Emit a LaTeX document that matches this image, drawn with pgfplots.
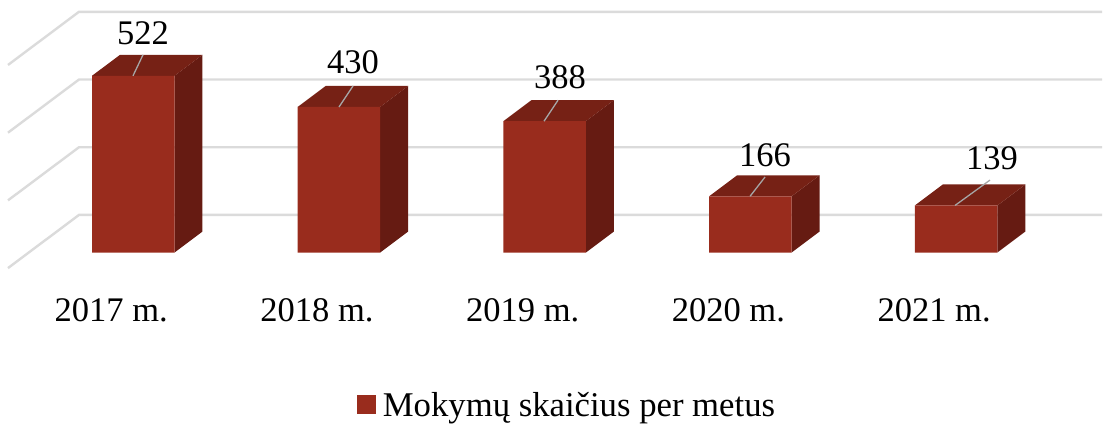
\documentclass[border=0pt]{standalone}
\usepackage{fontspec}
\setmainfont{Liberation Serif}
\usepackage{pgfplots}
\pgfplotsset{compat=1.18}
\definecolor{barfront}{HTML}{992C1D}
\definecolor{barside}{HTML}{661B12}
\definecolor{bartop}{HTML}{762115}
\definecolor{gridc}{HTML}{DBDBDB}
\definecolor{leader}{HTML}{A6A6A6}
\newcommand{\chartfont}{\fontsize{34.5}{40}\selectfont}
\newcommand{\legendfont}{\fontsize{34.7}{40}\selectfont}
\begin{document}
\begin{tikzpicture}
\path[use as bounding box] (0,-139pt) rectangle (1108pt,285pt);
\begin{axis}[
  at={(0,0)}, anchor=south west,
  scale only axis, width=1108pt, height=285pt,
  xmin=-0.6478, xmax=4.7387, ymin=-96, ymax=745.9,
  clip=false,
  axis x line=bottom, hide y axis,
  x axis line style={draw=none},
  major tick length=0pt,
  xtick={0,1,2,3,4},
  xticklabels={2017 m.,2018 m.,2019 m.,2020 m.,2021 m.},
  xticklabel style={font=\chartfont, text height=24pt, text depth=0pt, yshift=-9pt, xshift=-22pt},
  legend style={at={(0.5117,-0.421)}, anchor=center, draw=none, fill=none,
    font=\legendfont, inner sep=0pt, cells={anchor=west}},
  legend image code/.code={\fill[barfront] (2pt,-9.5pt) rectangle (21pt,9.5pt); \path (26pt,0pt);},
]
% gridlines: back wall + left wall
\addplot[gridc, line width=2.4pt, forget plot] coordinates {(-0.609,-46)(-0.2638,111)(4.71,111)};
\addplot[gridc, line width=2.4pt, forget plot] coordinates {(-0.609,154)(-0.2638,311)(4.71,311)};
\addplot[gridc, line width=2.4pt, forget plot] coordinates {(-0.609,354)(-0.2638,511)(4.71,511)};
\addplot[gridc, line width=2.4pt, forget plot] coordinates {(-0.609,554)(-0.2638,711)(4.71,711)};
% side faces
\addplot[fill=barside, draw=none, forget plot] coordinates {(0.2005,0)(0.3366,62)(0.3366,584)(0.2005,522)};
\addplot[fill=barside, draw=none, forget plot] coordinates {(1.2005,0)(1.3366,62)(1.3366,492)(1.2005,430)};
\addplot[fill=barside, draw=none, forget plot] coordinates {(2.2005,0)(2.3366,62)(2.3366,450)(2.2005,388)};
\addplot[fill=barside, draw=none, forget plot] coordinates {(3.2005,0)(3.3366,62)(3.3366,228)(3.2005,166)};
\addplot[fill=barside, draw=none, forget plot] coordinates {(4.2005,0)(4.3366,62)(4.3366,201)(4.2005,139)};
% top faces
\addplot[fill=bartop, draw=none, forget plot] coordinates {(-0.2005,522)(0.2005,522)(0.3366,584)(-0.0644,584)};
\addplot[fill=bartop, draw=none, forget plot] coordinates {(0.7995,430)(1.2005,430)(1.3366,492)(0.9356,492)};
\addplot[fill=bartop, draw=none, forget plot] coordinates {(1.7995,388)(2.2005,388)(2.3366,450)(1.9356,450)};
\addplot[fill=bartop, draw=none, forget plot] coordinates {(2.7995,166)(3.2005,166)(3.3366,228)(2.9356,228)};
\addplot[fill=bartop, draw=none, forget plot] coordinates {(3.7995,139)(4.2005,139)(4.3366,201)(3.9356,201)};
% front faces
\addplot[ybar, bar width=82.5pt, bar shift=0pt, fill=barfront, draw=none]
  coordinates {(0,522)(1,430)(2,388)(3,166)(4,139)};
\addlegendentry{Mokymų skaičius per metus}
% leader lines
\addplot[leader, line width=1.3pt, forget plot] coordinates {(-0.0012,522)(0.0474,584)};
\addplot[leader, line width=1.3pt, forget plot] coordinates {(1.0003,430)(1.0683,492)};
\addplot[leader, line width=1.3pt, forget plot] coordinates {(1.9969,388)(2.0650,450)};
\addplot[leader, line width=1.3pt, forget plot] coordinates {(2.9984,166)(3.0713,223)};
\addplot[leader, line width=1.3pt, forget plot] coordinates {(3.9949,139)(4.1650,214)};
% value labels
\addplot[draw=none, forget plot, point meta=explicit symbolic, nodes near coords,
  nodes near coords style={anchor=center, font=\chartfont, text=black, inner sep=0pt}]
  coordinates {(0.0474,648)[522] (1.0683,563)[430] (2.0747,518)[388] (3.0712,288)[166] (4.1748,279)[139]};
\end{axis}
\end{tikzpicture}
\end{document}
